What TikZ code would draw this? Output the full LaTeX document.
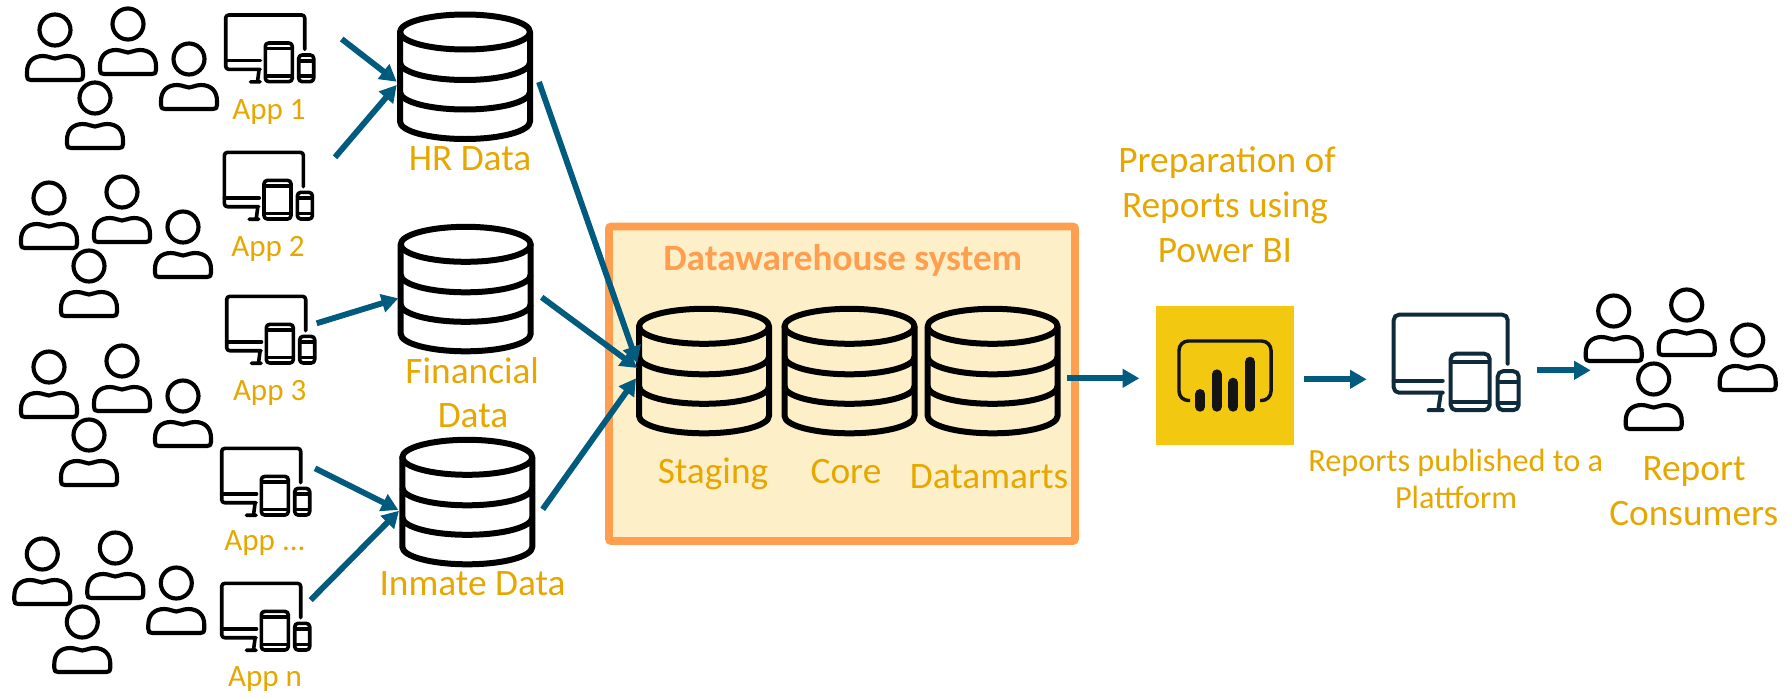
\documentclass[tikz,border=0pt]{standalone}
\usepackage{fontspec}
\setmainfont{Carlito}
\usetikzlibrary{arrows.meta}
\definecolor{lbl}{HTML}{E6A700}
\definecolor{flow}{HTML}{005B7F}
\definecolor{dwline}{HTML}{FF9E4F}
\definecolor{dwfill}{HTML}{FDEFC8}
\definecolor{pbi}{HTML}{F2C811}
\definecolor{pbiink}{HTML}{141414}
\definecolor{pubink}{HTML}{0F2A3A}
\newcommand{\crowd}[3]{%
  \pic (#1a) at (55+#2,30+#3) {person};
  \pic (#1b) at (128+#2,24+#3) {person};
  \pic (#1c) at (189+#2,59+#3) {person};
  \pic (#1d) at (95+#2,98+#3) {person};}
\tikzset{
  x=0.75pt,y=-0.75pt,
  txt/.style={anchor=base,inner sep=0pt,outer sep=0pt,text=lbl,font=\fontsize{28}{28}\selectfont},
  txtapp/.style={txt,font=\fontsize{23.3}{24}\selectfont},
  txtpub/.style={txt,font=\fontsize{24.2}{25}\selectfont},
  flowarrow/.style={draw=flow,line width=4.4pt,-{Triangle[length=12.5pt,width=13.5pt]},shorten >=0pt},
  person/.pic={
    \draw[black,line width=3.1pt,line join=round] (0,0) circle[radius=15.5];
    \draw[black,line width=3.1pt,line join=round]
      (-28,46) .. controls (-28,49) and (-27,50) .. (-24,50) -- (24,50)
      .. controls (27,50) and (28,49) .. (28,46) -- (28,42)
      .. controls (28,32) and (22,26) .. (12,26)
      .. controls (6,26) and (4,28.5) .. (0,28.5)
      .. controls (-4,28.5) and (-6,26) .. (-12,26)
      .. controls (-22,26) and (-28,32) .. (-28,42) -- cycle;
  },
  device/.pic={
    \begin{scope}[line width=2.7pt,line cap=round,line join=round,draw=black]
    \draw[rounded corners=2.2pt] (80.7,36) -- (80.7,1.7) -- (1.7,1.7) -- (1.7,56) -- (36,56);
    \draw (1.7,47.3) -- (36.5,47.3);
    \draw (35,57) -- (33.5,68.5) (26.5,68.5) -- (36,68.5);
    \draw[rounded corners=2.5pt] (41.3,29.7) rectangle (68.3,68.3);
    \draw (42,35) -- (67.6,35) (42,62.8) -- (67.6,62.8);
    \draw[rounded corners=2.5pt] (74.7,41.7) rectangle (89.7,68.3);
    \draw (75.4,47.5) -- (89,47.5) (75.4,62.8) -- (89,62.8);
    \end{scope}
  },
  bigdevice/.pic={
    \begin{scope}[line width=3pt,line cap=round,line join=round,draw=pubink]
    \draw[rounded corners=4pt] (116,51) -- (116,2) -- (2,2) -- (2,80) -- (51,80);
    \draw (2,68) -- (51,68);
    \draw (49,81) -- (46.5,97.5) (37,97.5) -- (51,97.5);
    \draw[rounded corners=4pt] (59,41) rectangle (98,97.5);
    \draw (60,49.5) -- (97,49.5) (60,89) -- (97,89);
    \draw[rounded corners=4pt] (106,58.5) rectangle (127,97.5);
    \draw (107,69) -- (126,69) (107,90.5) -- (126,90.5);
    \end{scope}
  },
  cyl/.pic={
    \begin{scope}[line width=4.5pt,draw=black,line join=round,line cap=butt]
    \draw (0,0) ellipse[x radius=65,y radius=17.5];
    \draw (-65,0) -- (-65,89.5) arc[start angle=180,end angle=0,x radius=65,y radius=17.5] -- (65,0);
    \draw (-65,30.5) arc[start angle=180,end angle=0,x radius=65,y radius=17.5];
    \draw (-65,60) arc[start angle=180,end angle=0,x radius=65,y radius=17.5];
    \end{scope}
  }
}
\begin{document}
\begin{tikzpicture}
\useasboundingbox (0,0) rectangle (1791,696);

% Data warehouse box
\node[draw=dwline,fill=dwfill,line width=5.7pt,rounded corners=1.5pt,minimum width=466*0.75pt,minimum height=314.5*0.75pt,inner sep=0pt,outer sep=0pt,anchor=north west] (dw) at (609,226.5) {};
\node[anchor=base west,inner sep=0pt,text=dwline,font=\fontsize{27.9}{28}\selectfont\bfseries] (dwt) at (663,270) {Datawarehouse system};

% People
\crowd{ua}{0}{0}
\crowd{ub}{-6}{168}
\crowd{uc}{-6}{337}
\crowd{ud}{-12.7}{524}
\crowd{ue}{1558.7}{281}

% Devices
\pic (d1) at (224,13.3) {device};
\pic (d2) at (222.7,150.7) {device};
\pic (d3) at (225,294.7) {device};
\pic (d4) at (220,446.7) {device};
\pic (d5) at (220,581.7) {device};
\pic (d6) at (1391.7,312.7) {bigdevice};

% App labels
\node[txtapp] (l1) at (269,119) {App 1};
\node[txtapp] (l2) at (268,256) {App 2};
\node[txtapp] (l3) at (269.7,400) {App 3};
\node[txtapp] (l4) at (265,550) {App ...};
\node[txtapp] (l5) at (265,686) {App n};

% Cylinders
\pic (hr) at (465,32) {cyl};
\pic (fin) at (465.7,244.3) {cyl};
\pic (inm) at (467.3,457.3) {cyl};
\pic (sta) at (704,326.3) {cyl};
\pic (cor) at (849.5,326.3) {cyl};
\pic (mar) at (992.6,326.3) {cyl};

% Labels
\node[txt] (hrl) at (470,170) {HR Data};
\node[txt] (finl) at (472.3,383) {Financial};
\node[txt] (finm) at (473,427) {Data};
\node[txt] (inml) at (472.5,595) {Inmate Data};
\node[txt] (stal) at (713,483) {Staging};
\node[txt] (corl) at (846,483) {Core};
\node[txt] (marl) at (989,488) {Datamarts};
\node[txt] (p1) at (1227,172.7) {Preparation of};
\node[txt] (p2) at (1225,217) {Reports using};
\node[txt] (p3) at (1225,262.7) {Power BI};
\node[txtpub] (r1) at (1455.8,471) {Reports published to a};
\node[txtpub] (r2) at (1456,508.7) {Plattform};
\node[txt] (c1) at (1694,480) {Report};
\node[txt] (c2) at (1693.7,525) {Consumers};

% Power BI tile
\node[fill=pbi,minimum width=138*0.75pt,minimum height=139*0.75pt,inner sep=0pt,outer sep=0pt,anchor=north west] (tile) at (1156,306) {};
\draw[pbiink,line width=2.6pt,rounded corners=7pt] (1190,400.5) -- (1179,400.5) -- (1179,341) -- (1271,341) -- (1271,400.5) -- (1260,400.5);
\foreach \bx/\bt in {1200.3/389,1216.7/369.3,1233.3/377.7,1250/356.7}
  \draw[pbiink,line width=7.5pt,line cap=round] (\bx,\bt+5) -- (\bx,406.7);

% Arrow ends
\coordinate (a1s) at (341.7,39);    \coordinate (a1e) at (396.7,81.7);
\coordinate (a2s) at (335,157.3);   \coordinate (a2e) at (396.7,85);
\coordinate (a3s) at (316.7,323.3); \coordinate (a3e) at (398.3,298.3);
\coordinate (a4s) at (315,468.3);   \coordinate (a4e) at (398.3,510);
\coordinate (a5s) at (310.7,600);   \coordinate (a5e) at (399,510.7);
\coordinate (b1s) at (539,82);      \coordinate (b1e) at (637.3,363);
\coordinate (b2s) at (541.7,297.3); \coordinate (b2e) at (637.3,368);
\coordinate (b3s) at (542.7,509.3); \coordinate (b3e) at (636,378.3);
\coordinate (c1s) at (1066.7,378.3);\coordinate (c1e) at (1139.3,378.3);
\coordinate (c2s) at (1304,379.3);  \coordinate (c2e) at (1366.7,379.3);
\coordinate (c3s) at (1537.3,370.3);\coordinate (c3e) at (1590.7,370.3);
\foreach \n in {a1,a2,a3,a4,a5,b1,b2,b3,c1,c2,c3}
  \draw[flowarrow] (\n s) -- (\n e);
\end{tikzpicture}
\end{document}
